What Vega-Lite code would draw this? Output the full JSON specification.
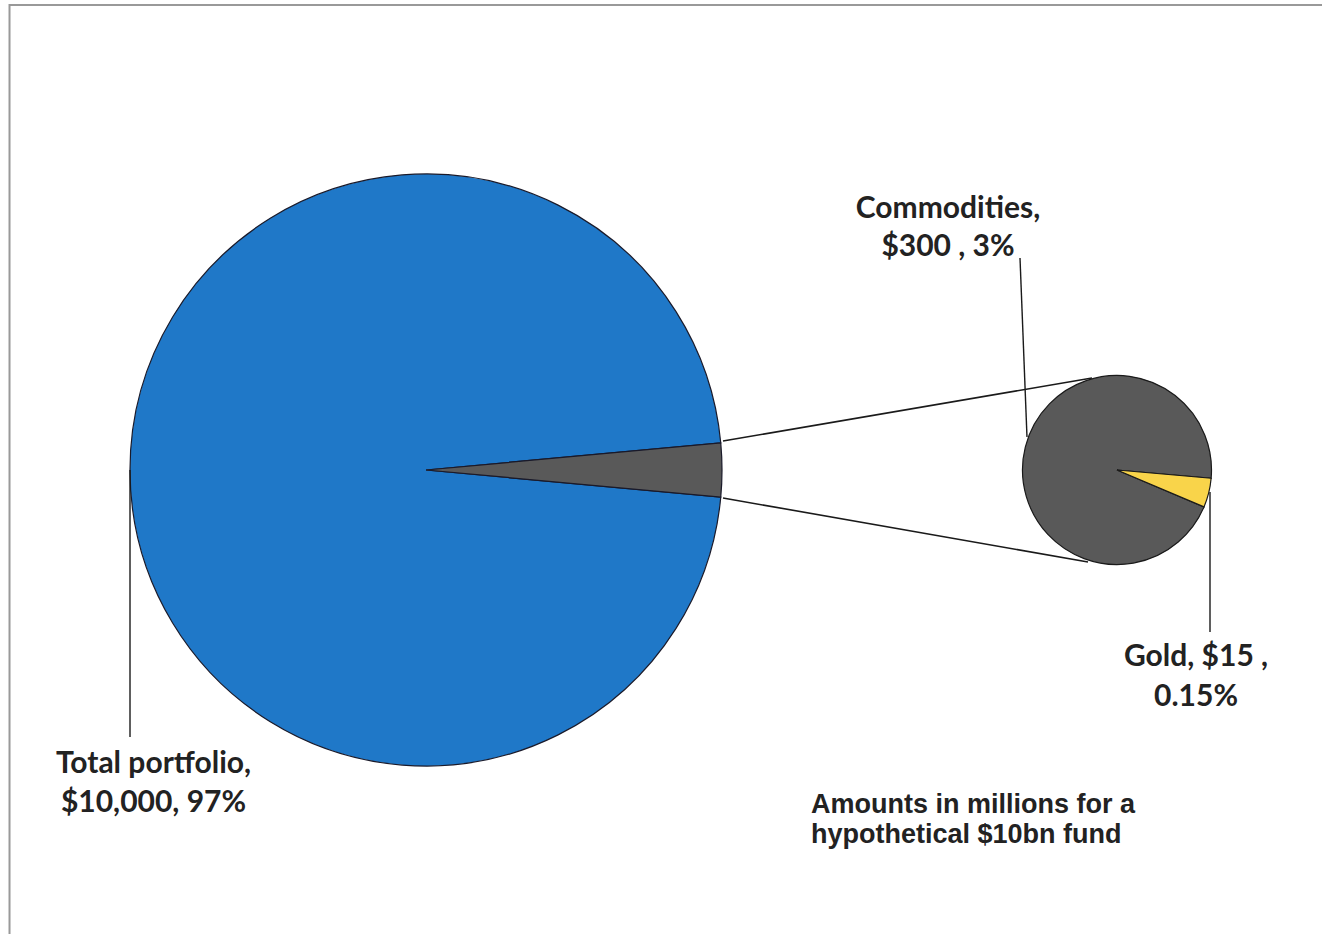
{
  "$schema": "https://vega.github.io/schema/vega-lite/v6.json",
  "width": 1322,
  "height": 934,
  "padding": 0,
  "autosize": {"type": "none"},
  "background": "white",
  "config": {"view": {"stroke": null}},
  "data": {"values": [{}]},
  "datasets": {
    "holdings": [
      {"asset": "Total portfolio", "group": "Total portfolio", "amount": 10000},
      {"asset": "Other commodities", "group": "Commodities", "amount": 285},
      {"asset": "Gold", "group": "Commodities", "amount": 15}
    ],
    "labels": [
      {"item": "Commodities", "label": ["Commodities,", "$300 , 3%"]},
      {"item": "Gold", "label": ["Gold, $15 ,", "0.15%"]},
      {"item": "Total portfolio", "label": ["Total portfolio,", "$10,000, 97%"]},
      {"item": "Note", "label": ["Amounts in millions for a", "hypothetical $10bn fund"]}
    ]
  },
  "resolve": {"scale": {"theta": "independent"}},
  "layer": [
    {
      "mark": {"type": "rect", "fill": "transparent", "stroke": "#999999", "strokeWidth": 2},
      "encoding": {
        "x": {"datum": 0.72, "type": "quantitative", "scale": {"domain": [0, 100]}, "axis": null},
        "x2": {"datum": 101},
        "y": {"datum": 0.53, "type": "quantitative", "scale": {"domain": [0, 100], "reverse": true}, "axis": null},
        "y2": {"datum": 101}
      }
    },
    {
      "data": {"name": "holdings"},
      "transform": [
        {"aggregate": [{"op": "sum", "field": "amount", "as": "amount"}], "groupby": ["group"]}
      ],
      "mark": {"type": "arc", "radius": 296, "stroke": "#1a1a2a", "strokeWidth": 1.2},
      "encoding": {
        "theta": {"field": "amount", "type": "quantitative", "stack": true, "scale": {"range": [1.4793, 7.7625]}},
        "order": {"field": "group", "sort": "ascending"},
        "color": {
          "field": "group", "type": "nominal", "legend": null,
          "scale": {"domain": ["Total portfolio", "Commodities", "Other commodities", "Gold"], "range": ["#1F78C8", "#595959", "#595959", "#F9D44A"]}
        },
        "x": {"datum": 32.224, "type": "quantitative", "scale": {"domain": [0, 100]}, "axis": null},
        "y": {"datum": 50.321, "type": "quantitative", "scale": {"domain": [0, 100], "reverse": true}, "axis": null}
      }
    },
    {
      "data": {"name": "holdings"},
      "transform": [{"filter": "datum.group === 'Commodities'"}],
      "mark": {"type": "arc", "radius": 94.5, "stroke": "#1a1a1a", "strokeWidth": 1.2},
      "encoding": {
        "theta": {"field": "amount", "type": "quantitative", "stack": true, "scale": {"range": [1.658, 7.9412]}},
        "order": {"field": "asset", "sort": "ascending"},
        "color": {"field": "asset", "type": "nominal", "legend": null},
        "x": {"datum": 84.493, "type": "quantitative", "scale": {"domain": [0, 100]}, "axis": null},
        "y": {"datum": 50.321, "type": "quantitative", "scale": {"domain": [0, 100], "reverse": true}, "axis": null}
      }
    },
    {
      "mark": {"type": "rule", "stroke": "#1a1a1a", "strokeWidth": 1.6},
      "encoding": {
        "x": {"datum": 54.69, "type": "quantitative"},
        "y": {"datum": 47.216, "type": "quantitative"},
        "x2": {"datum": 82.602},
        "y2": {"datum": 40.471}
      }
    },
    {
      "mark": {"type": "rule", "stroke": "#1a1a1a", "strokeWidth": 1.6},
      "encoding": {
        "x": {"datum": 54.69, "type": "quantitative"},
        "y": {"datum": 53.319, "type": "quantitative"},
        "x2": {"datum": 82.3},
        "y2": {"datum": 60.171}
      }
    },
    {
      "mark": {"type": "rule", "stroke": "#1a1a1a", "strokeWidth": 1.4},
      "encoding": {
        "x": {"datum": 77.156, "type": "quantitative"},
        "y": {"datum": 27.623, "type": "quantitative"},
        "x2": {"datum": 77.685},
        "y2": {"datum": 46.788}
      }
    },
    {
      "mark": {"type": "rule", "stroke": "#1a1a1a", "strokeWidth": 1.4},
      "encoding": {
        "x": {"datum": 91.528, "type": "quantitative"},
        "y": {"datum": 52.677, "type": "quantitative"},
        "x2": {"datum": 91.528},
        "y2": {"datum": 67.666}
      }
    },
    {
      "mark": {"type": "rule", "stroke": "#1a1a1a", "strokeWidth": 1.4},
      "encoding": {
        "x": {"datum": 9.834, "type": "quantitative"},
        "y": {"datum": 50.321, "type": "quantitative"},
        "x2": {"datum": 9.834},
        "y2": {"datum": 78.908}
      }
    },
    {
      "data": {"name": "labels"},
      "transform": [{"filter": "datum.item === 'Commodities'"}],
      "mark": {"type": "text", "align": "center", "baseline": "alphabetic", "font": "Lato", "fontWeight": "bold", "fontSize": 30, "lineHeight": 38.5, "fill": "#222222"},
      "encoding": {
        "text": {"field": "label"},
        "x": {"datum": 71.71, "type": "quantitative"},
        "y": {"datum": 23.34, "type": "quantitative"}
      }
    },
    {
      "data": {"name": "labels"},
      "transform": [{"filter": "datum.item === 'Gold'"}],
      "mark": {"type": "text", "align": "center", "baseline": "alphabetic", "font": "Lato", "fontWeight": "bold", "fontSize": 30, "lineHeight": 40, "fill": "#222222"},
      "encoding": {
        "text": {"field": "label"},
        "x": {"datum": 90.47, "type": "quantitative"},
        "y": {"datum": 71.31, "type": "quantitative"}
      }
    },
    {
      "data": {"name": "labels"},
      "transform": [{"filter": "datum.item === 'Total portfolio'"}],
      "mark": {"type": "text", "align": "center", "baseline": "alphabetic", "font": "Lato", "fontWeight": "bold", "fontSize": 30, "lineHeight": 39, "fill": "#222222"},
      "encoding": {
        "text": {"field": "label"},
        "x": {"datum": 11.61, "type": "quantitative"},
        "y": {"datum": 82.76, "type": "quantitative"}
      }
    },
    {
      "data": {"name": "labels"},
      "transform": [{"filter": "datum.item === 'Note'"}],
      "mark": {"type": "text", "align": "left", "baseline": "alphabetic", "font": "Liberation Sans", "fontWeight": "bold", "fontSize": 27, "lineHeight": 30, "fill": "#222222"},
      "encoding": {
        "text": {"field": "label"},
        "x": {"datum": 61.35, "type": "quantitative"},
        "y": {"datum": 87.04, "type": "quantitative"}
      }
    }
  ]
}
